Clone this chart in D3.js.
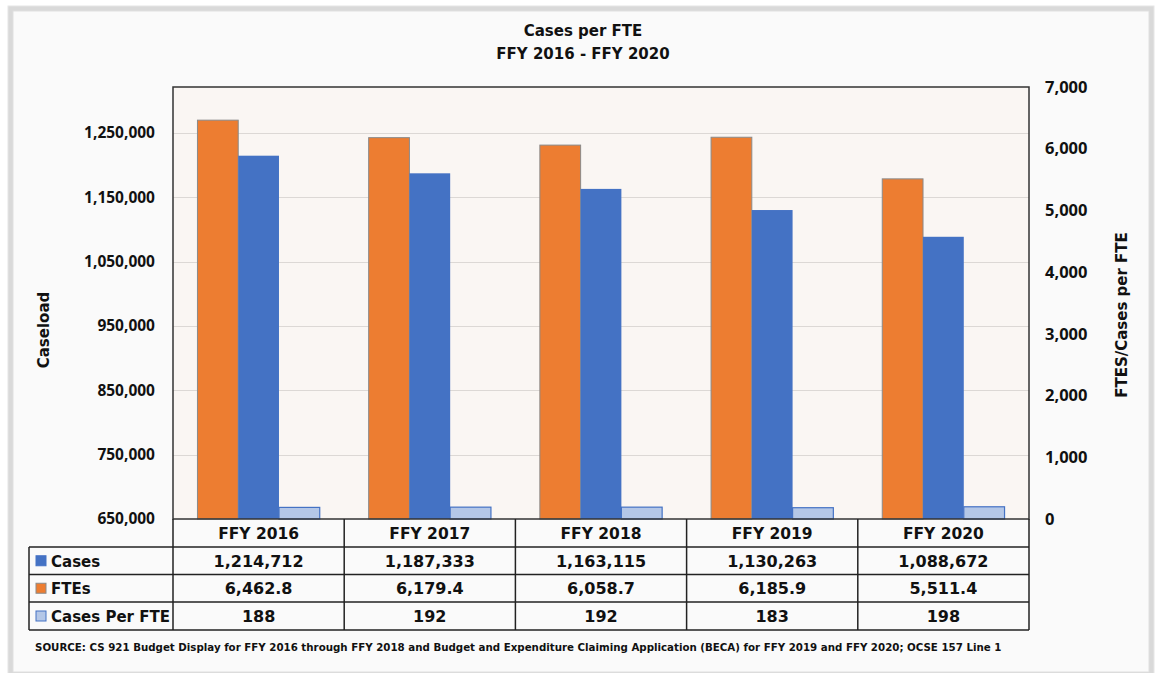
<!DOCTYPE html>
<html><head><meta charset="utf-8">
<script src="https://cdn.jsdelivr.net/npm/d3@7"></script>
<style>
html,body{margin:0;padding:0;background:#fff;}
svg text{font-family:"DejaVu Sans",sans-serif;font-weight:bold;fill:#111;}
</style></head><body>
<svg id="c" width="1158" height="673"></svg>
<script>
const categories = ["FFY 2016","FFY 2017","FFY 2018","FFY 2019","FFY 2020"];
const cases = [1214712,1187333,1163115,1130263,1088672];
const ftes = [6462.8,6179.4,6058.7,6185.9,5511.4];
const casesPerFte = [188,192,192,183,198];
const leftTicks = [650000,750000,850000,950000,1050000,1150000,1250000];
const rightTicks = [0,1000,2000,3000,4000,5000,6000,7000];
const seriesNames = ["Cases","FTEs","Cases Per FTE"];
const title1 = "Cases per FTE", title2 = "FFY 2016 - FFY 2020";
const leftLabel = "Caseload", rightLabel = "FTES/Cases per FTE";
const sourceText = "SOURCE: CS 921 Budget Display for FFY 2016 through FFY 2018 and Budget and Expenditure Claiming Application (BECA) for FFY 2019 and FFY 2020; OCSE 157 Line 1";

const C_BLUE="#4472C4", C_ORANGE="#ED7D31", C_LIGHT="#B4C7E7";
const svg = d3.select("#c");
// frame
svg.append("rect").attr("x",0).attr("y",0).attr("width",1158).attr("height",673).attr("fill","#fff");
svg.append("rect").attr("x",10.5).attr("y",8.5).attr("width",1141).attr("height",666).attr("fill","#fafafa").attr("stroke","#d9d9d9").attr("stroke-width",5);
svg.append("rect").attr("x",8).attr("y",6).attr("width",1146).attr("height",671).attr("fill","none").attr("stroke","#e6e6e6").attr("stroke-width",1);
svg.append("rect").attr("x",13).attr("y",11).attr("width",1136).attr("height",661).attr("fill","none").attr("stroke","#e0e0e0").attr("stroke-width",1);

const X0=173, X1=1029, Y0=87, Y1=519;
const x = d3.scaleBand().domain(categories).range([X0,X1]).paddingInner(0).paddingOuter(0);
const inner = d3.scaleBand().domain(["FTEs","Cases","Cases Per FTE"]).range([0,x.bandwidth()]).paddingOuter(0.6).paddingInner(0);
const yL = d3.scaleLinear().domain([650000,1321500]).range([Y1,Y0]);
const yR = d3.scaleLinear().domain([0,7000]).range([Y1,Y0]);

svg.append("rect").attr("x",X0).attr("y",Y0).attr("width",X1-X0).attr("height",Y1-Y0).attr("fill","#faf6f3");
// gridlines
svg.append("g").selectAll("line").data(leftTicks.slice(1)).join("line")
  .attr("x1",X0).attr("x2",X1).attr("y1",d=>Math.round(yL(d))+0.5).attr("y2",d=>Math.round(yL(d))+0.5)
  .attr("stroke","#dcd8d5").attr("stroke-width",1);

// bars
const g = svg.append("g");
categories.forEach((c,i)=>{
  g.append("rect").attr("x",x(c)+inner("FTEs")).attr("y",yR(ftes[i])).attr("width",inner.bandwidth()).attr("height",Y1-yR(ftes[i]))
    .attr("fill",C_ORANGE).attr("stroke","#8a8a8a").attr("stroke-width",1);
  g.append("rect").attr("x",x(c)+inner("Cases")).attr("y",yL(cases[i])).attr("width",inner.bandwidth()).attr("height",Y1-yL(cases[i]))
    .attr("fill",C_BLUE);
  g.append("rect").attr("x",x(c)+inner("Cases Per FTE")).attr("y",yR(casesPerFte[i])).attr("width",inner.bandwidth()).attr("height",Y1-yR(casesPerFte[i]))
    .attr("fill",C_LIGHT).attr("stroke",C_BLUE).attr("stroke-width",1.2);
});
// plot border
svg.append("rect").attr("x",X0).attr("y",Y0).attr("width",X1-X0).attr("height",Y1-Y0).attr("fill","none").attr("stroke","#333").attr("stroke-width",1.5);

// axes
const axL = d3.axisLeft(yL).tickValues(leftTicks).tickFormat(d3.format(",")).tickSize(0).tickPadding(18);
const gl = svg.append("g").attr("transform",`translate(${X0},0)`).call(axL);
gl.select(".domain").remove();
gl.selectAll("text").attr("font-size",15.5).style("font-family","'Open Sans'").style("font-weight","bold").attr("fill","#111");
const axR = d3.axisRight(yR).tickValues(rightTicks).tickFormat(d3.format(",")).tickSize(0).tickPadding(16);
const gr = svg.append("g").attr("transform",`translate(${X1},0)`).call(axR);
gr.select(".domain").remove();
gr.selectAll("text").attr("font-size",16.5).style("font-family","'Open Sans'").style("font-weight","bold").attr("fill","#111");

// titles
svg.append("text").attr("x",583).attr("y",36).attr("text-anchor","middle").attr("font-size",15).text(title1);
svg.append("text").attr("x",583).attr("y",59).attr("text-anchor","middle").attr("font-size",15).text(title2);
svg.append("text").attr("transform","translate(49,330) rotate(-90)").attr("text-anchor","middle").attr("font-size",15).text(leftLabel);
svg.append("text").attr("transform","translate(1127,315) rotate(-90)").attr("text-anchor","middle").attr("font-size",15).text(rightLabel);

// table
const rowsY = [519,547,574.5,602,630];
const LX = 29;
const tbl = svg.append("g");
const ln = (x1,y1,x2,y2)=>tbl.append("line").attr("x1",x1).attr("y1",y1).attr("x2",x2).attr("y2",y2).attr("stroke","#222").attr("stroke-width",1.5);
for(let r=1;r<rowsY.length;r++) ln(LX,rowsY[r],X1,rowsY[r]);
ln(LX,rowsY[1],LX,rowsY[4]);
categories.forEach(c=>ln(x(c),rowsY[0],x(c),rowsY[4]));
ln(X1,rowsY[0],X1,rowsY[4]);
categories.forEach(c=>{
  tbl.append("text").attr("x",x(c)+x.bandwidth()/2).attr("y",(rowsY[0]+rowsY[1])/2+6).attr("text-anchor","middle").attr("font-size",15.5).text(c);
});
const rowData = [cases.map(d3.format(",")), ftes.map(d3.format(",.1f")), casesPerFte.map(String)];
const keyFill = [C_BLUE,C_ORANGE,C_LIGHT], keyStroke=[C_BLUE,"#8a8a8a",C_BLUE];
rowData.forEach((vals,r)=>{
  const cy=(rowsY[r+1]+rowsY[r+2])/2;
  tbl.append("rect").attr("x",36).attr("y",cy-5).attr("width",10).attr("height",10).attr("fill",keyFill[r]).attr("stroke",keyStroke[r]).attr("stroke-width",1);
  tbl.append("text").attr("x",51).attr("y",cy+6).attr("font-size",15).text(seriesNames[r]);
  vals.forEach((v,i)=>{
    tbl.append("text").attr("x",x(categories[i])+x.bandwidth()/2).attr("y",cy+6).attr("text-anchor","middle").attr("font-size",16).text(v);
  });
});
svg.append("text").attr("x",35).attr("y",651).attr("font-size",10.25).text(sourceText);
</script></body></html>
